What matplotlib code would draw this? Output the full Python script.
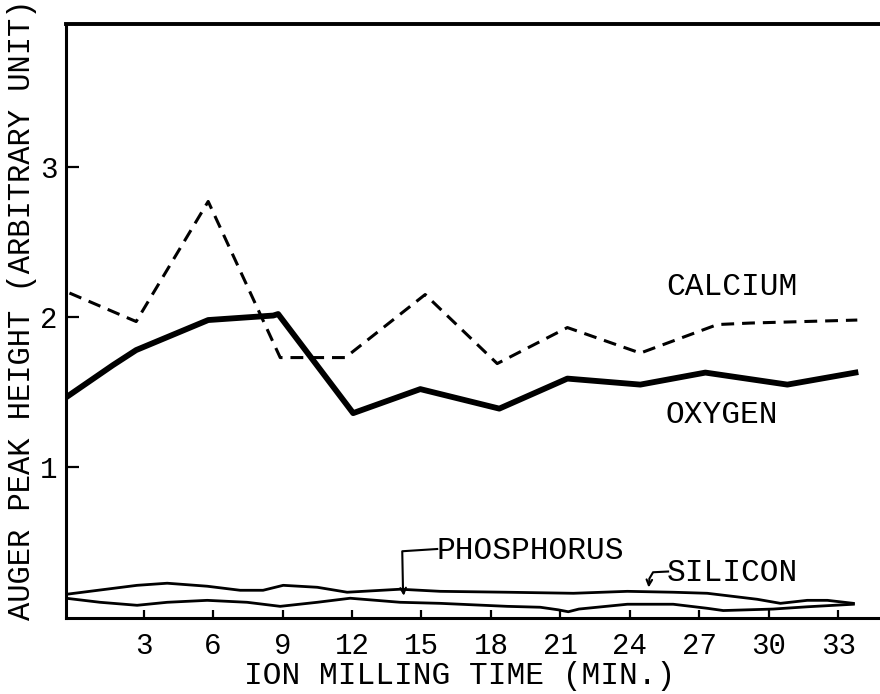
import matplotlib
matplotlib.use("Agg")
import matplotlib.pyplot as plt

plt.rcParams['font.family'] = ['Liberation Mono', 'DejaVu Sans Mono']

# Auger peak heights vs. ion milling time (min)
calcium_t = [-0.2, 2.68, 5.79, 8.90, 11.71, 15.16, 18.27, 21.30, 24.45, 27.78, 29.2, 33.82]
calcium_h = [2.16, 1.97, 2.77, 1.73, 1.73, 2.15, 1.69, 1.93, 1.76, 1.95, 1.96, 1.98]

oxygen_t = [-0.30, 1.68, 2.68, 5.79, 8.60, 8.81, 12.05, 14.95, 18.36, 21.30, 24.45, 27.26, 30.80, 33.74]
oxygen_h = [1.47, 1.68, 1.78, 1.98, 2.01, 2.02, 1.36, 1.52, 1.39, 1.59, 1.55, 1.63, 1.55, 1.63]

silicon_t = [-0.35, 2.72, 4.02, 5.75, 7.17, 8.16, 9.03, 10.50, 11.79, 14.08, 15.81,
             18.70, 21.56, 23.89, 25.87, 27.34, 29.50, 30.50, 31.66, 32.53, 33.65]
silicon_h = [0.153, 0.213, 0.227, 0.207, 0.18, 0.18, 0.213, 0.20, 0.167, 0.187, 0.173,
             0.167, 0.16, 0.173, 0.167, 0.16, 0.12, 0.093, 0.113, 0.113, 0.093]

phosphorus_t = [-0.35, 1.12, 2.72, 4.02, 5.75, 7.47, 8.90, 10.50, 11.92, 14.08, 15.81,
                18.70, 20.13, 20.9, 21.34, 21.8, 23.89, 25.87, 27.34, 28.03, 30.19, 31.66, 33.65]
phosphorus_h = [0.127, 0.10, 0.08, 0.10, 0.113, 0.10, 0.073, 0.10, 0.127, 0.10, 0.093,
                0.073, 0.067, 0.05, 0.037, 0.055, 0.087, 0.087, 0.06, 0.045, 0.055, 0.07, 0.087]

x_ticks = [3, 6, 9, 12, 15, 18, 21, 24, 27, 30, 33]
y_ticks = [1, 2, 3]

fig = plt.figure(figsize=(8.8, 6.94), dpi=100)
ax = fig.add_axes([0.075, 0.109, 0.925, 0.856])

ax.plot(calcium_t, calcium_h, color='black', lw=2.2, dashes=(4.2, 2.6))
ax.plot(oxygen_t, oxygen_h, color='black', lw=4.2, solid_joinstyle='round')
ax.plot(silicon_t, silicon_h, color='black', lw=2.0)
ax.plot(phosphorus_t, phosphorus_h, color='black', lw=2.0)

fs = 22.5
ax.text(25.55, 2.2, 'CALCIUM', fontsize=fs, va='center')
ax.text(25.55, 1.35, 'OXYGEN', fontsize=fs, va='center')
ax.text(15.65, 0.443, 'PHOSPHORUS', fontsize=fs, va='center')
ax.text(25.6, 0.293, 'SILICON', fontsize=fs, va='center')

# leader lines from the labels down to their curves
ax.plot([15.68, 14.17, 14.20], [0.455, 0.44, 0.2], color='black', lw=1.5)
ax.annotate('', xy=(14.25, 0.125), xytext=(14.20, 0.21),
            arrowprops=dict(arrowstyle='->', color='black', lw=1.5))
ax.plot([25.65, 25.0, 24.85], [0.305, 0.30, 0.26], color='black', lw=1.5)
ax.annotate('', xy=(24.8, 0.18), xytext=(24.85, 0.27),
            arrowprops=dict(arrowstyle='->', color='black', lw=1.5))

ax.set_xlim(-0.35, 34.8)
ax.set_ylim(-0.007, 3.95)
ax.set_xticks(x_ticks)
ax.set_yticks(y_ticks)
ax.tick_params(axis='x', direction='in', length=6, width=1.6, labelsize=21, pad=10)
ax.tick_params(axis='y', direction='in', length=9, width=1.6, labelsize=21, pad=6)

ax.spines['right'].set_visible(False)
ax.spines['left'].set_linewidth(2.2)
ax.spines['bottom'].set_linewidth(2.2)
ax.spines['top'].set_linewidth(2.8)

ax.set_xlabel('ION MILLING TIME (MIN.)', fontsize=fs)
ax.set_ylabel('AUGER PEAK HEIGHT (ARBITRARY UNIT)', fontsize=22)
ax.xaxis.set_label_coords(0.484, -0.072)
ax.yaxis.set_label_coords(-0.036, 0.52)

fig.savefig('out.png', dpi=100)
